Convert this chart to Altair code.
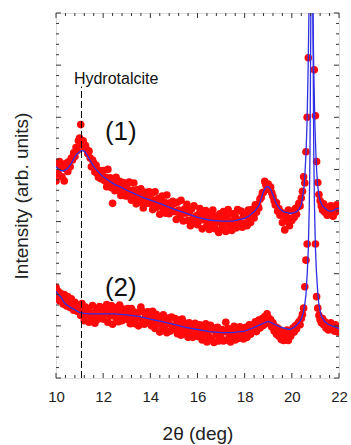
import altair as alt
import pandas as pd

# ---------------- data ----------------
# measured points, 2theta grid 10.00 ... 22.00 every 0.05 deg
two_theta = [round(10 + 0.05 * i, 2) for i in range(241)]

pts1 = [
    3.78, 4.12, 3.92, 4.15, 4.05, 3.86, 4.10, 3.78, 4.02, 4.12, 3.96, 4.15, 4.05, 4.22, 4.18, 4.32, 4.25, 4.42, 4.36, 4.55,
    4.60, 4.86, 4.48, 4.55, 4.42, 4.46, 4.38, 4.30, 4.35, 4.22, 4.05, 4.18, 4.12, 3.95, 4.08, 3.92, 3.85, 3.98, 3.82, 3.95,
    3.98, 3.79, 3.85, 3.67, 4.00, 3.76, 3.84, 3.65, 3.35, 3.76, 3.59, 3.85, 3.69, 3.60, 3.77, 3.50, 3.70, 3.75, 3.58, 3.49,
    3.68, 3.49, 3.76, 3.57, 3.41, 3.60, 3.74, 3.47, 3.34, 3.61, 3.52, 3.37, 3.63, 3.44, 3.26, 3.51, 3.56, 3.35, 3.42, 3.57,
    3.35, 3.54, 3.23, 3.41, 3.57, 3.27, 3.36, 3.44, 3.14, 3.31, 3.49, 3.24, 3.37, 3.16, 3.51, 3.28, 3.15, 3.36, 3.22, 3.39,
    3.34, 3.19, 3.04, 3.37, 3.22, 3.09, 3.41, 3.16, 3.01, 3.24, 3.16, 3.33, 3.02, 3.17, 2.92, 3.24, 3.05, 3.30, 2.99, 3.11,
    2.94, 3.14, 3.25, 3.03, 2.86, 3.16, 3.05, 3.21, 2.94, 3.06, 2.85, 3.15, 2.97, 3.22, 3.06, 2.86, 3.10, 2.99, 2.79, 3.15,
    3.05, 2.89, 3.19, 2.99, 2.81, 3.11, 3.23, 2.93, 3.01, 2.83, 3.15, 2.97, 3.10, 2.88, 3.23, 3.03, 2.94, 3.20, 2.89, 3.11,
    2.96, 3.11, 2.92, 3.22, 3.07, 2.98, 3.23, 3.15, 3.07, 3.32, 3.18, 3.33, 3.26, 3.43, 3.46, 3.55, 3.56, 3.77, 3.70, 3.62,
    3.72, 3.62, 3.66, 3.55, 3.48, 3.40, 3.32, 3.36, 3.20, 3.25, 3.12, 3.18, 2.98, 3.12, 2.84, 3.15, 3.02, 3.22, 2.92, 3.06,
    3.02, 3.20, 3.08, 3.25, 3.14, 3.28, 3.35, 3.30, 3.45, 3.58, 3.86, 3.74, 4.34, 5.00, 6.14, 9.00, 14.0, 14.0, 9.00, 5.91,
    5.03, 4.15, 3.75, 3.52, 3.40, 3.30, 3.22, 3.34, 3.18, 3.28, 3.12, 3.25, 3.15, 3.30, 3.20, 3.10, 3.24, 3.18, 3.32, 3.22,
    3.28,
]

pts2 = [
    1.74, 1.58, 1.66, 1.48, 1.62, 1.55, 1.42, 1.60, 1.50, 1.38, 1.56, 1.46, 1.35, 1.52, 1.42, 1.30, 1.45, 1.36, 1.28, 1.40,
    1.34, 1.20, 1.43, 1.25, 1.10, 1.36, 1.22, 1.30, 1.07, 1.25, 1.15, 1.39, 1.19, 1.05, 1.33, 1.23, 1.13, 1.37, 1.19, 1.29,
    1.13, 1.35, 1.23, 1.41, 1.07, 1.29, 1.19, 1.39, 1.03, 1.25, 1.35, 1.15, 1.29, 1.08, 1.40, 1.20, 1.10, 1.32, 1.15, 1.25,
    1.13, 1.33, 1.20, 1.04, 1.33, 1.15, 1.27, 1.04, 1.24, 1.16, 1.00, 1.27, 1.36, 1.10, 1.27, 1.03, 1.18, 1.06, 1.27, 1.11,
    1.19, 1.00, 1.28, 1.11, 0.95, 1.22, 1.05, 1.17, 0.88, 1.10, 1.00, 1.21, 0.94, 1.10, 0.87, 1.15, 1.04, 0.90, 1.17, 0.97,
    0.95, 1.14, 1.02, 0.85, 1.11, 0.96, 0.82, 1.13, 1.01, 0.86, 1.05, 0.95, 0.78, 1.06, 0.89, 1.01, 0.78, 0.96, 1.05, 0.83,
    0.95, 0.79, 1.02, 0.88, 0.73, 0.99, 0.84, 1.04, 0.69, 0.91, 0.79, 1.01, 0.74, 0.92, 0.68, 0.96, 0.83, 0.97, 0.71, 0.87,
    0.77, 0.93, 0.71, 0.89, 1.07, 0.73, 0.95, 0.83, 0.69, 0.91, 0.79, 0.99, 0.73, 0.87, 0.93, 0.76, 0.98, 0.82, 0.93, 0.75,
    0.82, 0.97, 0.78, 0.95, 1.02, 0.84, 1.01, 0.90, 0.97, 1.08, 0.89, 1.04, 1.11, 0.96, 1.09, 1.14, 1.01, 1.18, 1.09, 1.23,
    1.16, 1.04, 1.12, 0.98, 1.06, 0.90, 0.98, 0.84, 0.96, 0.80, 0.92, 0.74, 0.90, 0.72, 0.86, 0.76, 0.92, 0.72, 0.88, 0.80,
    0.90, 0.96, 0.88, 1.00, 0.94, 1.04, 1.08, 1.02, 1.14, 1.22, 1.34, 1.75, 2.26, 2.57, 8.00, 10.0, 12.0, 12.0, 10.0, 8.00,
    2.57, 1.56, 1.34, 1.20, 1.12, 1.06, 1.14, 1.02, 1.08, 0.96, 1.04, 0.92, 1.00, 1.06, 0.94, 0.98, 0.90, 1.02, 0.94, 0.88,
    0.96,
]

# fitted curves (blue)
fit1_x = [10.0, 10.1, 10.2, 10.3, 10.4, 10.5, 10.6, 10.7, 10.8, 10.9,
          11.0, 11.1, 11.2, 11.3, 11.4, 11.5, 11.6, 11.7, 11.8, 11.9,
          12.0, 12.25, 12.5, 12.75, 13.0, 13.25, 13.5, 13.75, 14.0, 14.5,
          15.0, 15.5, 16.0, 16.5, 17.0, 17.5, 18.0, 18.2, 18.4, 18.5,
          18.6, 18.7, 18.8, 18.9, 19.0, 19.1, 19.2, 19.3, 19.4, 19.5,
          19.6, 19.7, 19.8, 19.9, 20.0, 20.1, 20.2, 20.3, 20.4, 20.48,
          20.52, 20.56, 20.6, 20.645, 20.69, 20.725, 20.76, 20.81, 20.86, 20.895,
          20.93, 20.975, 21.02, 21.055, 21.1, 21.15, 21.2, 21.3, 21.4, 21.5,
          21.6, 21.7, 21.8, 21.9, 22.0]
fit1_y = [4.05, 4.01, 3.98, 3.97, 3.99, 4.02, 4.08, 4.16, 4.24, 4.30,
          4.34, 4.36, 4.35, 4.29, 4.21, 4.13, 4.06, 4.00, 3.95, 3.90,
          3.86, 3.78, 3.71, 3.66, 3.60, 3.55, 3.50, 3.45, 3.41, 3.33,
          3.24, 3.16, 3.08, 3.03, 3.01, 3.01, 3.06, 3.11, 3.19, 3.24,
          3.30, 3.44, 3.58, 3.66, 3.67, 3.62, 3.51, 3.39, 3.30, 3.24,
          3.20, 3.18, 3.17, 3.16, 3.16, 3.17, 3.19, 3.23, 3.32, 3.54,
          3.68, 3.95, 4.30, 4.90, 5.90, 7.00, 9.50, 16.0, 9.50, 7.00,
          5.90, 4.90, 4.30, 3.95, 3.68, 3.50, 3.40, 3.30, 3.26, 3.22,
          3.20, 3.20, 3.22, 3.25, 3.26]

fit2_x = [10.0, 10.1, 10.2, 10.3, 10.4, 10.5, 10.6, 10.7, 10.8, 10.9,
          11.0, 11.2, 11.5, 12.0, 12.5, 13.0, 13.5, 14.0, 14.5, 15.0,
          15.5, 16.0, 16.5, 17.0, 17.5, 18.0, 18.25, 18.5, 18.75, 18.9,
          19.0, 19.1, 19.25, 19.5, 19.7, 19.9, 20.1, 20.3, 20.4, 20.48,
          20.55, 20.6, 20.66, 20.7, 20.74, 20.77, 20.8, 20.85, 20.9, 20.93,
          20.96, 21.0, 21.04, 21.09, 21.14, 21.2, 21.26, 21.4, 21.54, 21.7,
          21.89, 22.0]
fit2_y = [1.66, 1.60, 1.56, 1.48, 1.42, 1.39, 1.36, 1.33, 1.31, 1.28,
          1.26, 1.24, 1.23, 1.23, 1.23, 1.21, 1.18, 1.13, 1.08, 1.03,
          0.97, 0.93, 0.89, 0.87, 0.87, 0.90, 0.94, 0.99, 1.04, 1.07,
          1.08, 1.07, 1.03, 0.98, 0.95, 0.93, 0.97, 1.06, 1.13, 1.24,
          1.42, 1.60, 2.07, 2.50, 3.30, 4.30, 6.50, 12.0, 6.50, 4.30,
          3.30, 2.50, 2.07, 1.70, 1.44, 1.28, 1.18, 1.08, 1.03, 1.00,
          0.97, 0.95]

x_labels = [10, 12, 14, 16, 18, 20, 22]
x_minor = [round(10 + 0.4 * i, 2) for i in range(31) if i % 5 != 0]
y_major = [0, 1, 2, 3, 4, 5, 6, 7]
y_minor = [round(0.2 * i, 2) for i in range(36) if i % 5 != 0]

marker_x = 11.08           # hydrotalcite reflection
marker_top = 5.59
notes = ["Hydrotalcite", "(1)", "(2)"]
note_x = [12.55, 12.75, 12.75]
note_y = [5.74, 4.72, 1.73]

# ---------------- chart ----------------
W, H = 283, 365
FONT = "Liberation Sans"
xs = alt.Scale(domain=[10, 22], nice=False, zero=False)
ys = alt.Scale(domain=[0, 7], nice=False, zero=False)

xaxis = alt.Axis(values=x_labels, format="d", ticks=False, domain=False, grid=False,
                 labelFlush=False, labelOverlap=False,
                 labelPadding=11, labelFontSize=15, labelColor="#222", labelFont=FONT,
                 titleFontSize=19, titleFontWeight="normal", titleFont=FONT, titleColor="#222",
                 titleBaseline="alphabetic", titleY=61)
yaxis = alt.Axis(labels=False, ticks=False, domain=False, grid=False,
                 titleFontSize=19, titleFontWeight="normal", titleFont=FONT, titleColor="#222",
                 titleBaseline="alphabetic", titleX=-29, titleY=H / 2)

XT = "2θ (deg)"
YT = "Intensity (arb. units)"


def X(f="x"):
    return alt.X(f"{f}:Q", scale=xs, axis=xaxis, title=XT)


def Y(f="y"):
    return alt.Y(f"{f}:Q", scale=ys, axis=yaxis, title=YT)


pts = pd.DataFrame({"x": two_theta * 2, "y": pts1 + pts2})
fit1 = pd.DataFrame({"x": fit1_x, "y": fit1_y})
fit2 = pd.DataFrame({"x": fit2_x, "y": fit2_y})

points = alt.Chart(pts).mark_circle(size=58, color="#ff0a0a", opacity=1, clip=True).encode(x=X(), y=Y())
line1 = alt.Chart(fit1).mark_line(color="#2f2fe6", strokeWidth=1.3, clip=True).encode(x=X(), y=Y())
line2 = alt.Chart(fit2).mark_line(color="#2f2fe6", strokeWidth=1.3, clip=True).encode(x=X(), y=Y())

dash = alt.Chart(pd.DataFrame({"x": [marker_x], "y": [0], "y2": [marker_top]})).mark_rule(
    color="#000", strokeWidth=1, strokeDash=[7, 3]).encode(x=X(), y=Y(), y2="y2:Q")

tick_color = "#333"
xmaj = pd.DataFrame({"x": x_labels})
xmin = pd.DataFrame({"x": x_minor})
ymaj = pd.DataFrame({"y": y_major})
ymin = pd.DataFrame({"y": y_minor})


def xticks(df, n):
    b = alt.Chart(df).mark_rule(color=tick_color, strokeWidth=1).encode(
        x=X(), y=alt.value(H), y2=alt.value(H - n))
    t = alt.Chart(df).mark_rule(color=tick_color, strokeWidth=1).encode(
        x=X(), y=alt.value(0), y2=alt.value(n))
    return [b, t]


def yticks(df, n):
    l = alt.Chart(df).mark_rule(color=tick_color, strokeWidth=1).encode(
        y=Y(), x=alt.value(0), x2=alt.value(n))
    r = alt.Chart(df).mark_rule(color=tick_color, strokeWidth=1).encode(
        y=Y(), x=alt.value(W), x2=alt.value(W - n))
    return [l, r]


ndf = pd.DataFrame({"x": note_x, "y": note_y, "t": notes})
t_hydro = alt.Chart(ndf.iloc[[0]]).mark_text(fontSize=16, font=FONT, color="#111", baseline="middle").encode(
    x=X(), y=Y(), text="t:N")
t_num = alt.Chart(ndf.iloc[[1, 2]]).mark_text(fontSize=26, font=FONT, color="#111", baseline="middle").encode(
    x=X(), y=Y(), text="t:N")

layers = [points, line1, line2, dash] + xticks(xmaj, 5) + xticks(xmin, 3) + yticks(ymaj, 5) + yticks(ymin, 3) + [t_hydro, t_num]

chart = alt.layer(*layers).properties(
    width=W, height=H,
    autosize=alt.AutoSizeParams(type="none"),
    padding={"left": 56, "top": 13, "right": 12, "bottom": 67},
).configure_view(stroke="#333", strokeWidth=1).configure(background="white")

chart.save("out.html", embed_options={"renderer": "svg", "actions": False})
